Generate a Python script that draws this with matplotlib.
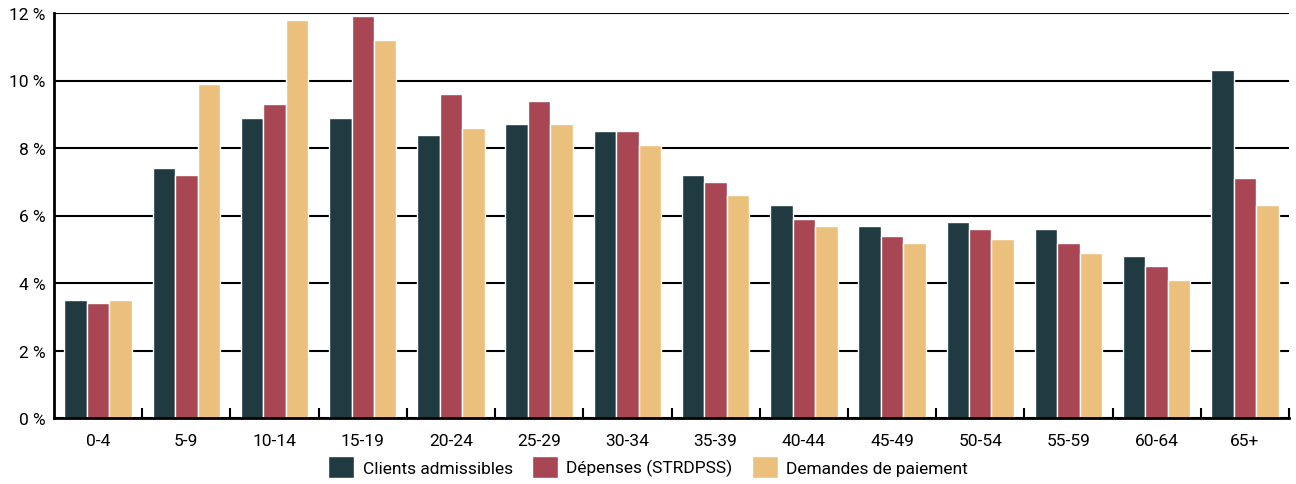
import matplotlib
matplotlib.use("Agg")
import matplotlib.pyplot as plt
import numpy as np
from matplotlib.ticker import FixedLocator
from matplotlib import font_manager

names = {f.name for f in font_manager.fontManager.ttflist}
fam = "Liberation Sans Narrow" if "Liberation Sans Narrow" in names else "Roboto"
plt.rcParams['font.family'] = [fam, 'DejaVu Sans']

categories = ["0-4", "5-9", "10-14", "15-19", "20-24", "25-29", "30-34",
              "35-39", "40-44", "45-49", "50-54", "55-59", "60-64", "65+"]
clients = [3.5, 7.4, 8.9, 8.9, 8.4, 8.7, 8.5, 7.2, 6.3, 5.7, 5.8, 5.6, 4.8, 10.3]
depenses = [3.4, 7.2, 9.3, 11.9, 9.6, 9.4, 8.5, 7.0, 5.9, 5.4, 5.6, 5.2, 4.5, 7.1]
demandes = [3.5, 9.9, 11.8, 11.2, 8.6, 8.7, 8.1, 6.6, 5.7, 5.2, 5.3, 4.9, 4.1, 6.3]
series_names = ["Clients admissibles", "Dépenses (STRDPSS)", "Demandes de paiement"]
colors = ["#1f3a40", "#a84653", "#ebc07d"]
yticks = [0, 2, 4, 6, 8, 10, 12]

fig = plt.figure(figsize=(12.96, 4.85), dpi=100)
ax = fig.add_axes([54/1296, 1-419/485, (1289-54)/1296, (419-14)/485])

x = np.arange(len(categories))
w = 0.255
for i, (vals, name, c) in enumerate(zip([clients, depenses, demandes], series_names, colors)):
    ax.bar(x + (i-1)*w, vals, width=w, color=c, edgecolor="white", linewidth=1.0,
           label=name, zorder=3)

ax.set_xlim(-0.5, len(categories)-0.5)
ax.set_ylim(0, 12)
ax.set_yticks(yticks)
ax.set_yticklabels([f"{t} %" for t in yticks], fontsize=12.5)
ax.set_xticks(x)
ax.set_xticklabels(categories, fontsize=12.5)
ax.tick_params(axis='x', which='major', length=0, pad=11)
ax.tick_params(axis='y', length=0, pad=6)
ax.xaxis.set_minor_locator(FixedLocator(np.arange(0.5, len(categories), 1.0)))
ax.tick_params(axis='x', which='minor', direction='in', length=7, width=1.5, color='black')
ax.yaxis.grid(True, color='black', linewidth=1.5, zorder=0)
ax.set_axisbelow(True)
for s in ['top', 'right']:
    ax.spines[s].set_visible(False)
for s in ['left', 'bottom']:
    ax.spines[s].set_linewidth(2)
    ax.spines[s].set_color('black')
    ax.spines[s].set_zorder(4)

fig.legend(loc='lower center', bbox_to_anchor=(0.5, -0.02), ncol=3, frameon=False,
           fontsize=12.5, handlelength=1.5, handleheight=1.6, handletextpad=0.5,
           columnspacing=1.1)

fig.savefig("out.png", dpi=100)
